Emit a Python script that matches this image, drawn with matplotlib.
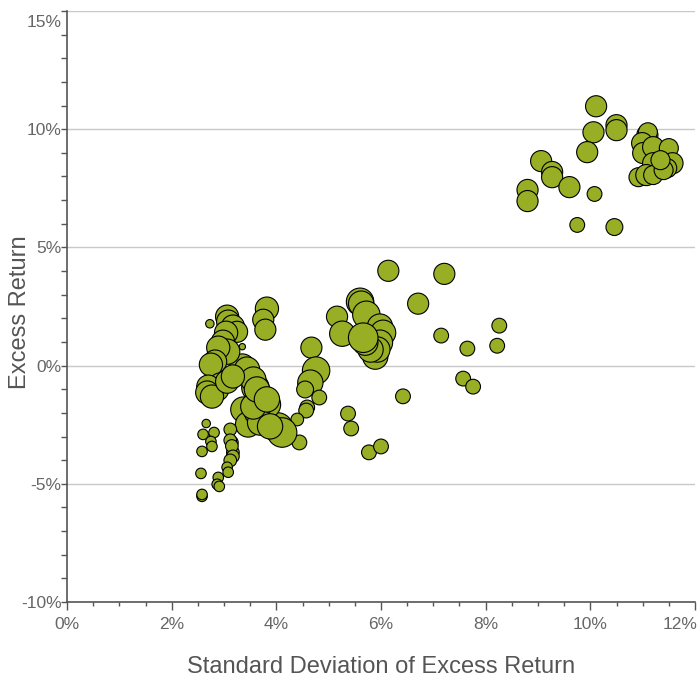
import matplotlib
matplotlib.use('Agg')
import matplotlib.pyplot as plt
import matplotlib.transforms as mtransforms
import numpy as np
from matplotlib.ticker import MultipleLocator

plt.rcParams['font.family'] = ['Liberation Sans', 'DejaVu Sans']

# standard deviation of excess return (%), excess return (%), bubble weight
std_dev = [
    10.11, 10.06, 10.50, 10.50, 9.94, 9.06, 9.27, 9.27, 9.60, 8.80, 8.80, 10.08, 9.75, 10.46,
    11.09, 11.10, 10.99, 11.01, 11.20, 11.20, 11.50, 11.57, 11.47, 10.92, 11.07, 11.20, 11.40, 11.34,
    6.14, 7.21, 6.71, 7.15, 7.65, 8.26, 8.22, 7.57, 7.76, 6.42, 5.37, 5.43, 5.77, 6.00,
    5.16, 5.26, 5.60, 5.62, 5.72, 5.98, 6.04, 5.98, 5.89, 5.93, 5.80, 5.70, 5.66,
    4.67, 4.76, 4.65, 4.55, 4.82, 4.59, 4.57, 4.40, 4.44,
    4.03, 4.11, 3.82, 3.60, 3.40, 3.35, 3.54, 3.37, 3.46, 3.63, 3.69, 3.56, 3.88,
    3.82, 3.75, 3.79, 2.73, 3.06, 3.08, 3.17, 3.25, 3.04, 2.98, 3.35, 3.06, 2.89, 2.83, 2.75,
    3.44, 3.56, 3.63, 3.82, 2.93, 2.87, 2.70, 2.68, 2.77, 3.06, 3.17, 3.12, 3.15, 3.17,
    2.66, 2.60, 2.81, 2.75, 2.77, 2.58, 3.12, 3.15, 3.17, 3.12, 3.06, 3.08, 2.56, 2.89, 2.87,
    2.91, 2.58, 2.58,
]
excess_ret = [
    10.97, 9.87, 10.17, 9.96, 9.03, 8.65, 8.19, 7.97, 7.55, 7.43, 6.96, 7.26, 5.95, 5.86,
    9.75, 9.87, 9.41, 8.99, 9.24, 8.56, 9.20, 8.56, 8.35, 7.97, 8.06, 8.06, 8.27, 8.69,
    4.01, 3.88, 2.62, 1.27, 0.72, 1.69, 0.84, -0.55, -0.89, -1.30, -2.03, -2.66, -3.67, -3.42,
    2.07, 1.35, 2.70, 2.62, 2.15, 1.65, 1.39, 0.97, 0.38, 0.68, 0.68, 0.97, 1.18,
    0.76, -0.21, -0.72, -1.01, -1.35, -1.77, -1.90, -2.28, -3.25,
    -2.62, -2.83, -1.65, -0.93, -0.25, -0.04, -2.28, -1.86, -2.49, -1.98, -2.41, -1.73, -2.57,
    2.41, 1.94, 1.52, 1.77, 2.07, 1.86, 1.65, 1.43, 1.39, 1.01, 0.80, 0.59, 0.76, 0.17, 0.04,
    -0.17, -0.59, -1.01, -1.43, -0.80, -1.01, -0.89, -1.14, -1.31, -0.68, -0.46, -2.70, -3.25, -3.67,
    -2.45, -2.91, -2.83, -3.21, -3.42, -3.63, -3.16, -3.40, -3.84, -4.01, -4.30, -4.51, -4.56, -4.73, -5.02,
    -5.11, -5.53, -5.45,
]
weight = [
    10, 10, 10, 10, 10, 10, 10, 10, 10, 10, 10, 7, 7, 8,
    10, 9, 10, 10, 10, 10, 9, 10, 9, 9, 10, 9, 9, 9,
    10, 10, 10, 7, 7, 7, 7, 7, 7, 7, 7, 7, 7, 7,
    10, 12, 13, 12, 13, 12, 12, 12, 12, 12, 12, 12, 14,
    10, 13, 12, 8, 7, 7, 7, 6, 7,
    14, 14, 13, 13, 12, 12, 13, 12, 12, 12, 12, 12, 12,
    11, 10, 10, 4, 11, 11, 11, 10, 11, 11, 3, 12, 11, 11, 11,
    12, 12, 12, 12, 11, 11, 11, 11, 11, 11, 11, 6, 6, 6,
    4, 5, 5, 5, 5, 5, 6, 6, 6, 6, 5, 5, 5, 5, 5,
    5, 5, 5,
]

x_ticks = [0, 2, 4, 6, 8, 10, 12]
x_labels = ['0%', '2%', '4%', '6%', '8%', '10%', '12%']
y_ticks = [-10, -5, 0, 5, 10, 15]
y_labels = ['-10%', '-5%', '0%', '5%', '10%', '15%']

fig = plt.figure(figsize=(6.99, 6.85), dpi=100)
ax = fig.add_axes([67 / 699, 1 - 602 / 685, 628 / 699, 591 / 685])

sizes = (1.52 * np.array(weight)) ** 2
ax.scatter(std_dev, excess_ret, s=sizes, color='#98ae24', edgecolors='black',
           linewidths=0.8, zorder=3, clip_on=False)

ax.set_xlim(0, 12)
ax.set_ylim(-10, 15)
ax.set_xticks(x_ticks)
ax.set_xticklabels(x_labels)
ax.set_yticks(y_ticks)
ax.set_yticklabels(y_labels)
ax.xaxis.set_minor_locator(MultipleLocator(0.5))
ax.yaxis.set_minor_locator(MultipleLocator(1))

ax.grid(axis='y', color='#c8c8c8', linewidth=1.0, zorder=0)
for s in ['top', 'right']:
    ax.spines[s].set_visible(False)
for s in ['left', 'bottom']:
    ax.spines[s].set_color('#555555')
    ax.spines[s].set_linewidth(1.2)

ax.tick_params(axis='x', which='major', length=6, width=1, color='#555555',
               labelsize=12.5, labelcolor='#666666', pad=5)
ax.tick_params(axis='x', which='minor', length=3, width=1, color='#555555')
ax.tick_params(axis='y', which='major', length=4, width=1, color='#555555',
               labelsize=12.5, labelcolor='#666666', pad=0)
ax.tick_params(axis='y', which='minor', length=4, width=1, color='#555555')

# top y label sits a little lower, last x label pulled inside the figure
top_lbl = ax.get_yticklabels()[-1]
top_lbl.set_va('top')
top_lbl.set_transform(top_lbl.get_transform() +
                      mtransforms.ScaledTranslation(0, -3 / 72, fig.dpi_scale_trans))
ax.get_xticklabels()[-1].set_ha('right')
last_x = ax.get_xticklabels()[-1]
last_x.set_transform(last_x.get_transform() +
                     mtransforms.ScaledTranslation(2 / 72, 0, fig.dpi_scale_trans))

fig.text(20 / 699, 1 - 312 / 685, 'Excess Return', rotation=90, ha='center', va='center',
         fontsize=17, color='#555555')
fig.text(381 / 699, 1 - 667 / 685, 'Standard Deviation of Excess Return', ha='center',
         va='center', fontsize=17, color='#555555')

fig.savefig('out.png', dpi=100)
